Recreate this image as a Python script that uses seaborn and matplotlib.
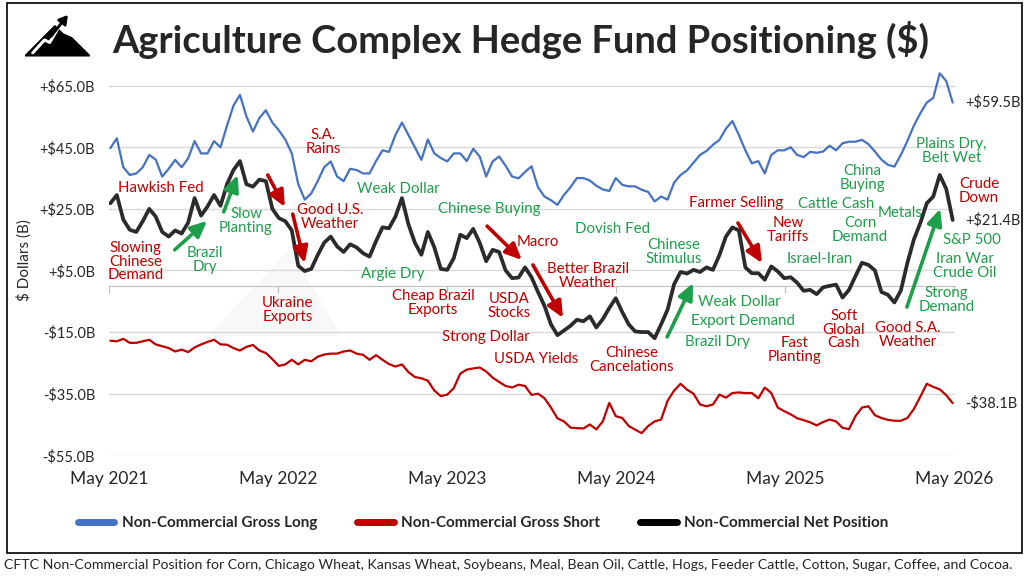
import numpy as np
import pandas as pd
import seaborn as sns
import matplotlib.pyplot as plt
import matplotlib.dates as mdates
from matplotlib.lines import Line2D
from matplotlib.patches import Polygon, Rectangle
from matplotlib.ticker import FuncFormatter

# biweekly CFTC snapshots, May 2021 - Apr 2026 ($ billions)
dates = pd.date_range("2021-05-04", periods=131, freq="14D")

gross_long = [
    44.7, 47.9, 38.5, 36.0, 36.5, 38.5, 42.5, 41.0, 35.5, 38.0,
    40.9, 38.5, 41.4, 47.0, 43.0, 43.0, 47.0, 45.0, 52.0, 58.5,
    62.0, 55.0, 50.1, 54.5, 57.0, 53.0, 50.5, 47.5, 43.0, 33.0,
    28.0, 30.0, 34.0, 38.5, 40.4, 35.5, 34.0, 38.0, 37.6, 36.5,
    36.5, 40.5, 44.0, 43.5, 49.0, 53.0, 49.0, 45.0, 40.9, 47.5,
    43.0, 41.5, 40.4, 43.0, 43.0, 40.5, 44.5, 42.0, 35.5, 40.4,
    42.0, 39.0, 35.5, 34.9, 37.0, 38.8, 32.0, 29.0, 27.8, 26.3,
    29.5, 32.0, 35.0, 35.0, 34.2, 32.5, 31.3, 30.8, 35.0, 32.8,
    32.3, 32.3, 31.2, 30.5, 27.4, 29.0, 28.0, 33.5, 36.0, 37.5,
    40.0, 42.5, 43.8, 45.8, 47.4, 51.0, 53.5, 49.0, 44.0, 39.8,
    40.5, 36.5, 42.5, 44.0, 44.0, 45.0, 42.5, 41.8, 43.5, 43.2,
    43.6, 45.5, 44.0, 46.3, 46.8, 46.8, 47.4, 46.0, 43.6, 41.0,
    39.3, 38.7, 42.5, 47.0, 52.0, 56.0, 59.5, 61.0, 69.0, 66.5,
    59.5,
]

gross_short = [
    -17.8, -18.0, -17.2, -18.5, -18.5, -18.0, -17.5, -19.0, -19.6, -20.2,
    -21.3, -20.7, -21.5, -20.0, -19.0, -18.2, -17.5, -19.0, -19.1, -20.2,
    -21.0, -19.8, -19.2, -21.0, -21.8, -23.8, -26.0, -25.5, -24.0, -25.5,
    -24.0, -24.5, -23.0, -22.3, -22.0, -22.0, -21.3, -21.0, -22.0, -22.4,
    -24.0, -22.5, -24.0, -25.4, -26.2, -25.5, -28.0, -29.6, -30.0, -30.8,
    -34.0, -35.8, -35.3, -33.2, -28.5, -27.2, -26.8, -26.5, -27.8, -29.8,
    -31.2, -32.5, -33.0, -32.1, -32.5, -35.4, -35.0, -36.5, -39.5, -43.0,
    -44.0, -46.0, -46.2, -46.3, -45.0, -46.6, -44.0, -38.0, -42.3, -42.9,
    -45.5, -46.7, -47.8, -45.5, -44.0, -43.4, -37.3, -34.0, -31.8, -33.7,
    -35.0, -38.5, -39.1, -38.5, -35.3, -36.3, -34.8, -34.6, -34.8, -34.8,
    -36.5, -33.0, -34.8, -39.5, -40.7, -41.7, -43.0, -43.6, -44.3, -45.3,
    -44.2, -43.4, -44.0, -46.1, -46.5, -42.3, -39.5, -39.1, -42.0, -42.9,
    -43.5, -43.8, -43.8, -42.9, -40.0, -36.0, -31.8, -32.8, -33.6, -35.5,
    -38.1,
]

net_position = [
    26.8, 29.5, 21.5, 18.2, 17.5, 21.0, 25.0, 22.5, 17.5, 16.0,
    18.0, 17.0, 20.5, 28.5, 22.8, 25.8, 29.5, 26.0, 33.0, 37.6,
    40.5, 33.0, 32.2, 34.5, 34.0, 25.0, 22.0, 21.0, 18.0, 6.5,
    4.8, 5.5, 10.0, 14.0, 16.0, 12.8, 11.0, 13.5, 12.5, 10.6,
    9.5, 14.5, 19.0, 18.7, 22.5, 28.5, 20.0, 14.0, 10.1, 17.5,
    12.5, 5.5, 5.2, 9.0, 16.6, 15.5, 18.5, 14.0, 8.0, 11.7,
    11.0, 5.0, 2.5, 2.7, 6.0, 2.8, -2.0, -6.5, -12.5, -16.0,
    -14.5, -13.0, -11.0, -11.5, -9.9, -13.5, -10.8, -7.2, -4.0, -8.5,
    -12.5, -14.8, -15.0, -15.0, -17.0, -12.5, -7.7, 0.5, 4.5, 4.0,
    5.2, 4.5, 6.0, 5.2, 10.0, 16.0, 19.0, 18.0, 6.0, 4.1,
    4.1, 2.0, 6.3, 4.7, 2.5, 2.8, 1.0, -1.6, -1.3, -2.7,
    -0.5, 0.0, 0.4, -3.8, -1.3, 3.2, 7.5, 6.8, 5.0, -2.0,
    -2.9, -5.4, -1.5, 7.4, 15.0, 20.4, 26.8, 29.0, 36.0, 31.5,
    21.4,
]

series_names = ["Non-Commercial Gross Long", "Non-Commercial Gross Short",
                "Non-Commercial Net Position"]

BLUE, RED, BLACK = "#4472C4", "#C00000", "#2B2B2B"
TXT_RED, TXT_GREEN = "#C00000", "#1E9E4A"

# event notes: text, date, level, colour
notes = [
    ("Hawkish Fed", "2021-08-21", 31.8, TXT_RED),
    ("Slowing\nChinese\nDemand", "2021-06-28", 7.8, TXT_RED),
    ("Brazil\nDry", "2021-11-24", 8.4, TXT_GREEN),
    ("Slow\nPlanting", "2022-02-21", 21.1, TXT_GREEN),
    ("S.A.\nRains", "2022-08-07", 46.7, TXT_RED),
    ("Good U.S.\nWeather", "2022-08-22", 22.4, TXT_RED),
    ("Ukraine\nExports", "2022-05-22", -7.8, TXT_RED),
    ("Weak Dollar", "2023-01-17", 31.5, TXT_GREEN),
    ("Argie Dry", "2023-01-04", 3.9, TXT_GREEN),
    ("Chinese Buying", "2023-07-31", 25.0, TXT_GREEN),
    ("Cheap Brazil\nExports", "2023-04-01", -5.6, TXT_RED),
    ("Macro", "2023-11-14", 14.3, TXT_RED),
    ("USDA\nStocks", "2023-09-12", -6.5, TXT_RED),
    ("Strong Dollar", "2023-07-25", -16.6, TXT_RED),
    ("USDA Yields", "2023-11-09", -23.7, TXT_RED),
    ("Better Brazil\nWeather", "2024-03-01", 3.2, TXT_RED),
    ("Dovish Fed", "2024-04-24", 18.5, TXT_GREEN),
    ("Chinese\nStimulus", "2024-09-03", 11.0, TXT_GREEN),
    ("Chinese\nCancelations", "2024-06-04", -24.1, TXT_RED),
    ("Weak Dollar", "2025-01-21", -5.2, TXT_GREEN),
    ("Export Demand", "2025-01-30", -11.4, TXT_GREEN),
    ("Brazil Dry", "2024-12-05", -18.2, TXT_GREEN),
    ("Farmer Selling", "2025-01-15", 26.9, TXT_RED),
    ("New\nTariffs", "2025-05-07", 18.1, TXT_RED),
    ("Israel-Iran", "2025-07-15", 8.7, TXT_GREEN),
    ("Fast\nPlanting", "2025-05-22", -20.8, TXT_RED),
    ("Soft\nGlobal\nCash", "2025-09-05", -14.3, TXT_RED),
    ("Good S.A.\nWeather", "2026-01-21", -15.9, TXT_RED),
    ("Cattle Cash", "2025-08-19", 26.6, TXT_GREEN),
    ("China\nBuying", "2025-10-14", 35.0, TXT_GREEN),
    ("Corn\nDemand", "2025-10-10", 18.1, TXT_GREEN),
    ("Metals", "2026-01-04", 23.8, TXT_GREEN),
    ("Plains Dry,\nBelt Wet", "2026-04-25", 43.8, TXT_GREEN),
    ("Crude\nDown", "2026-06-24", 30.8, TXT_RED),
    ("S&P 500", "2026-06-09", 14.9, TXT_GREEN),
    ("Iran War\nCrude Oil", "2026-05-25", 6.5, TXT_GREEN),
    ("Strong\nDemand", "2026-04-14", -4.6, TXT_GREEN),
]

# arrows: tail date, tail level, head date, head level, colour
arrows = [
    ("2021-09-20", 11.7, "2021-11-29", 21.1, TXT_GREEN),
    ("2022-01-04", 24.0, "2022-02-03", 36.0, TXT_GREEN),
    ("2022-04-09", 36.0, "2022-05-16", 25.6, TXT_RED),
    ("2022-06-02", 23.3, "2022-06-28", 7.4, TXT_RED),
    ("2023-07-27", 19.4, "2023-10-10", 8.4, TXT_RED),
    ("2023-11-03", 6.8, "2024-01-07", -10.4, TXT_RED),
    ("2024-08-19", -16.6, "2024-10-14", 0.9, TXT_GREEN),
    ("2025-01-19", 20.4, "2025-03-12", 7.4, TXT_RED),
    ("2026-01-19", -6.9, "2026-04-01", 25.0, TXT_GREEN),
]

sns.set_style("white")
plt.rcParams["font.family"] = ["Lato", "DejaVu Sans"]

fig = plt.figure(figsize=(10.28, 5.81), dpi=100)
ax = fig.add_axes([0.106, 0.2164, 0.823, 0.6733])

# faint watermark mountain
ax.add_patch(Polygon([(0.119, 0.308), (0.214, 0.525), (0.273, 0.308)], closed=True,
                     transform=ax.transAxes, color="#F8F8F8", zorder=0))

sns.lineplot(x=dates, y=gross_long, ax=ax, color=BLUE, lw=1.6, zorder=3)
sns.lineplot(x=dates, y=gross_short, ax=ax, color=RED, lw=1.6, zorder=3)
sns.lineplot(x=dates, y=net_position, ax=ax, color=BLACK, lw=2.7, zorder=4)

ax.set_xlim(pd.Timestamp("2021-05-01"), pd.Timestamp("2026-05-03"))
ax.set_ylim(-55, 72)
ax.set_yticks(np.arange(-55, 66, 20))
ax.yaxis.set_major_formatter(FuncFormatter(
    lambda v, _: f"+${v:.1f}B" if v > 0 else f"-${abs(v):.1f}B"))
ax.xaxis.set_major_locator(mdates.YearLocator(month=5, day=1))
ax.xaxis.set_major_formatter(mdates.DateFormatter("%b %Y"))
ax.tick_params(axis="y", length=0, pad=10, labelsize=10.5)
ax.tick_params(axis="x", length=0, pad=11, labelsize=12.5)
ax.grid(axis="y", color="#D9D9D9", lw=1)
ax.grid(axis="x", visible=False)
for s in ax.spines.values():
    s.set_visible(False)
ax.set_xlabel("")
ax.set_ylabel("$ Dollars (B)", fontsize=11, labelpad=6)

# zero line with year ticks
sec = ax.secondary_xaxis(0, transform=ax.transData)
sec.xaxis.set_major_locator(mdates.YearLocator(month=5, day=1))
sec.tick_params(axis="x", length=5, color="#BFBFBF", labelbottom=False)
sec.spines["bottom"].set_color("#BFBFBF")

for txt, d, v, c in notes:
    ax.text(pd.Timestamp(d), v, txt, color=c, fontsize=10.8, ha="center",
            va="center", linespacing=0.95, zorder=5, clip_on=False)

for d0, v0, d1, v1, c in arrows:
    ax.annotate("", xy=(pd.Timestamp(d1), v1), xytext=(pd.Timestamp(d0), v0),
                arrowprops=dict(arrowstyle="-|>,head_length=0.7,head_width=0.32",
                                color=c, lw=2.6, mutation_scale=14,
                                shrinkA=0, shrinkB=0), zorder=5)

# end-of-series value labels
for vals in (gross_long, net_position, gross_short):
    last = vals[-1]
    lbl = f"+${last:.1f}B" if last > 0 else f"-${abs(last):.1f}B"
    ax.annotate(lbl, xy=(dates[-1], last), xytext=(9, 0), textcoords="offset points",
                fontsize=10.5, va="center", ha="left", annotation_clip=False)

# title and logo
fig.text(0.507, 0.931, "Agriculture Complex Hedge Fund Positioning ($)",
         fontsize=27.4, fontweight="bold", ha="center", va="center")
lax = fig.add_axes([0.0243, 0.9002, 0.0632, 0.074])
lax.set_xlim(0, 1)
lax.set_ylim(0, 1)
lax.axis("off")
lax.add_patch(Polygon([(0, 0.05), (0.46, 0.75), (0.585, 0.56), (0.72, 0.47), (1, 0.05)],
                      closed=True, color="black"))
lax.plot([0.12, 0.3, 0.38, 0.52], [0.12, 0.42, 0.36, 0.72], color="white", lw=2.2)
lax.annotate("", xy=(0.66, 1.0), xytext=(0.4, 0.5),
             arrowprops=dict(arrowstyle="-|>,head_length=0.5,head_width=0.3",
                             color="black", lw=2, mutation_scale=10, shrinkA=0, shrinkB=0))

# legend
handles = [Line2D([], [], color=c, lw=5) for c in (BLUE, RED, "black")]
fig.legend(handles, series_names, loc="center", bbox_to_anchor=(0.47, 0.0998),
           ncol=3, frameon=False, handlelength=2.4, handletextpad=0.5,
           columnspacing=2.6, prop=dict(weight="bold", size=11))

fig.patches.append(Rectangle((0.0068, 0.0482), 0.9874, 0.9466, transform=fig.transFigure,
                             fill=False, ec="black", lw=1.2))
fig.text(0.004, 0.0275,
         "CFTC Non-Commercial Position for Corn, Chicago Wheat, Kansas Wheat, Soybeans, Meal, "
         "Bean Oil, Cattle, Hogs, Feeder Cattle, Cotton, Sugar, Coffee, and Cocoa.",
         fontsize=10.2, ha="left", va="center")

fig.savefig("out.png", dpi=100)
